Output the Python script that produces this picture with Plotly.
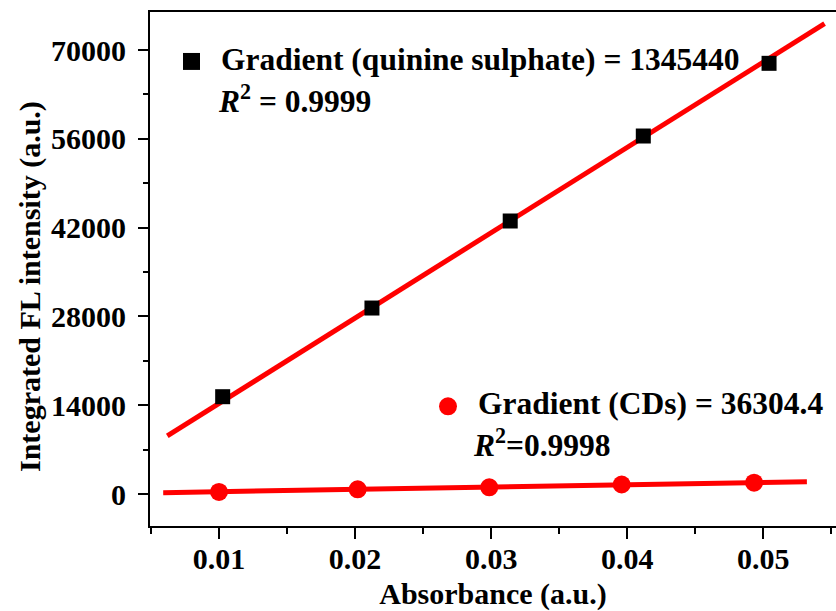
import numpy as np
import plotly.graph_objects as go

# Absorbance vs. integrated fluorescence intensity
abs_qs = [0.01027, 0.02124, 0.0314, 0.04118, 0.05042]
fl_qs = [15340, 29320, 43040, 56440, 67900]
slope_qs = 1345440
r2_qs = "0.9999"

abs_cd = [0.0100, 0.02019, 0.02986, 0.03959, 0.04932]
fl_cd = [330, 740, 1060, 1500, 1790]
slope_cd = 36304.4
r2_cd = "0.9998"

# extent of the fitted lines
fit_x_qs = [0.0062, 0.0545]
fit_x_cd = [0.0059, 0.0532]

x_ticks = [0.01, 0.02, 0.03, 0.04, 0.05]
y_ticks = [0, 14000, 28000, 42000, 56000, 70000]

FONT = "Liberation Serif"
RED = "#ff0000"


def fit_line(xs, ys, slope, xr):
    b = np.mean(ys) - slope * np.mean(xs)
    xr = np.array(xr)
    return xr, slope * xr + b


fig = go.Figure()

fx, fy = fit_line(abs_qs, fl_qs, slope_qs, fit_x_qs)
fig.add_trace(go.Scatter(x=fx, y=fy, mode="lines",
                         line=dict(color=RED, width=5), showlegend=False))
fx, fy = fit_line(abs_cd, fl_cd, slope_cd, fit_x_cd)
fig.add_trace(go.Scatter(x=fx, y=fy, mode="lines",
                         line=dict(color=RED, width=5), showlegend=False))

fig.add_trace(go.Scatter(x=abs_qs, y=fl_qs, mode="markers",
                         marker=dict(symbol="square", size=15, color="black"),
                         showlegend=False))
fig.add_trace(go.Scatter(x=abs_cd, y=fl_cd, mode="markers",
                         marker=dict(symbol="circle", size=18, color=RED),
                         showlegend=False))

# key symbols
fig.add_shape(type="rect", xref="paper", yref="paper",
              x0=0.0481, x1=0.0729, y0=0.8873, y1=0.9203,
              fillcolor="black", line=dict(width=0))
fig.add_shape(type="circle", xref="paper", yref="paper",
              x0=0.4213, x1=0.4475, y0=0.2154, y1=0.2503,
              fillcolor=RED, line=dict(width=0))

bold = dict(family=FONT, color="black", weight="bold")
labels = [
    (0.1006, 0.9067, f"Gradient (quinine sulphate) = {slope_qs}"),
    (0.0962, 0.8309, f"<i>R</i><sup>2</sup> = {r2_qs}"),
    (0.4752, 0.2381, f"Gradient (CDs) = {slope_cd}"),
    (0.4679, 0.1623, f"<i>R</i><sup>2</sup>={r2_cd}"),
]
for x, y, t in labels:
    fig.add_annotation(x=x, y=y, xref="paper", yref="paper", text=t,
                       showarrow=False, xanchor="left", yanchor="middle",
                       font=dict(size=31.5, **bold))

# y-axis title
fig.add_annotation(x=-0.1749, y=0.465, xref="paper", yref="paper",
                   text="Integrated FL intensity (a.u.)", textangle=-90,
                   showarrow=False, xanchor="center", yanchor="middle",
                   font=dict(size=30, **bold))

axis_common = dict(
    showline=True, linecolor="black", linewidth=2,
    ticks="outside", tickcolor="black", tickwidth=2,
    showgrid=False, zeroline=False,
    tickfont=dict(size=30, **bold),
)

fig.update_xaxes(
    **axis_common,
    range=[0.00493, 0.05534],
    tickvals=x_ticks, ticktext=[f"{v:.2f}" for v in x_ticks],
    ticklen=11, mirror=True, ticklabelstandoff=-6,
    minor=dict(dtick=0.005, tick0=0, ticks="outside", ticklen=6,
               tickwidth=2, tickcolor="black"),
    title=dict(text="Absorbance (a.u.)", standoff=9,
               font=dict(size=30, **bold)),
)
fig.update_yaxes(
    **axis_common,
    range=[-5045, 75991],
    tickvals=y_ticks, ticktext=[str(v) for v in y_ticks],
    ticklen=10, ticklabelstandoff=6,
    minor=dict(dtick=7000, tick0=0, ticks="outside", ticklen=5,
               tickwidth=2, tickcolor="black"),
)

fig.update_layout(
    width=836, height=611,
    margin=dict(l=150, r=0, t=12, b=85),
    paper_bgcolor="white", plot_bgcolor="white",
    showlegend=False,
)

fig.write_html("out.html")
